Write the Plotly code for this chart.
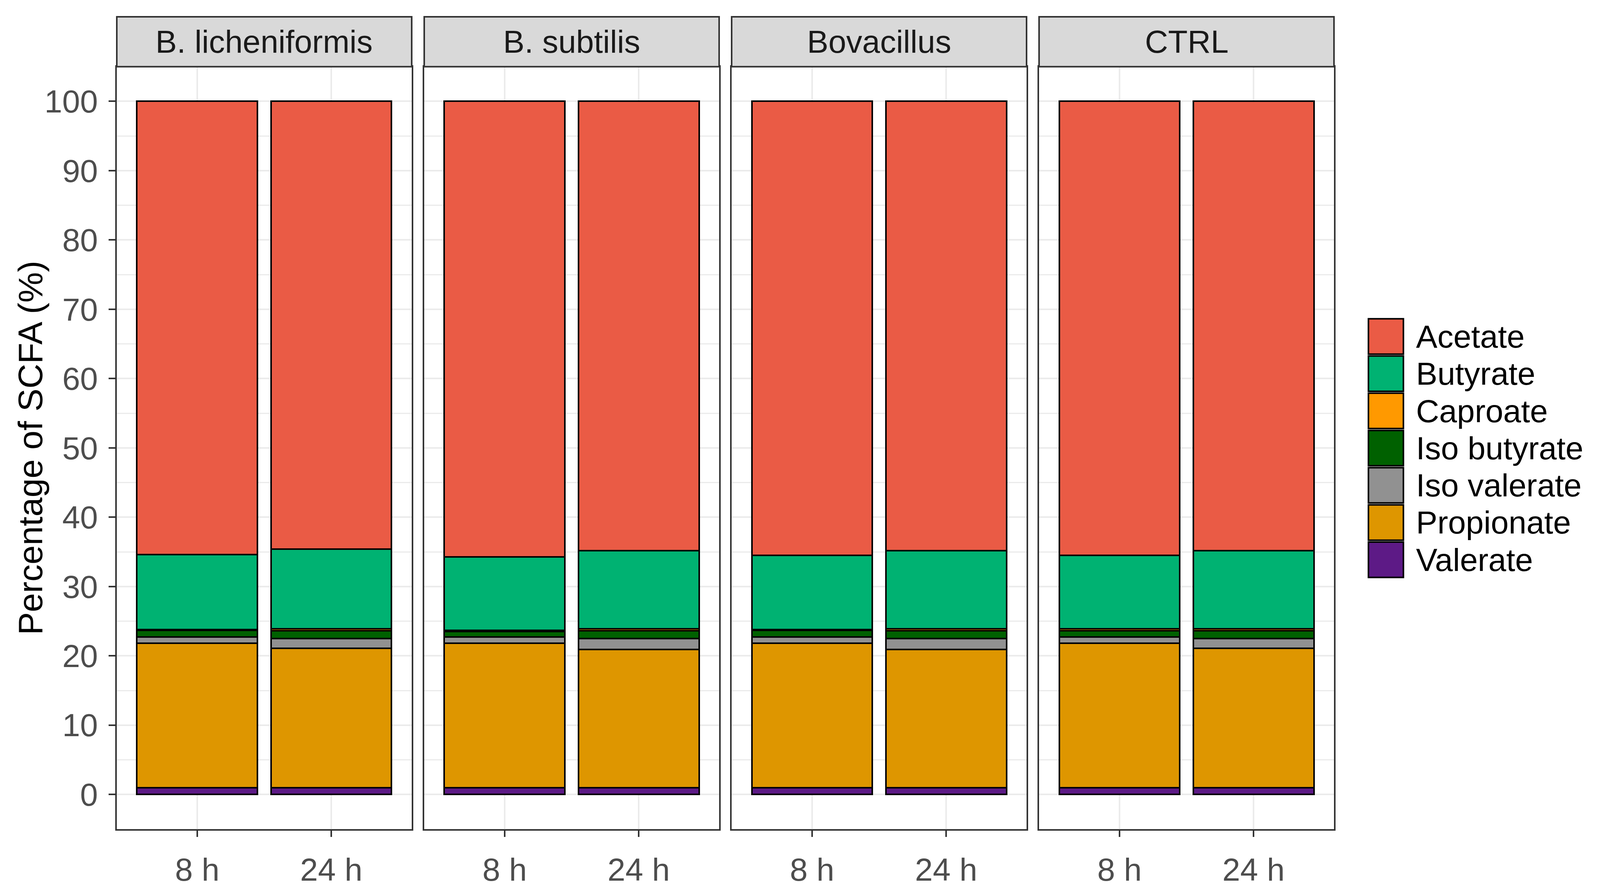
import plotly.graph_objects as go
from plotly.subplots import make_subplots

# ---------------- data ----------------
groups = ["B. licheniformis", "B. subtilis", "Bovacillus", "CTRL"]
times = ["8 h", "24 h"]

# values per group, [8 h, 24 h]
valerate = {"B. licheniformis": [1.0, 1.0], "B. subtilis": [1.0, 1.0],
            "Bovacillus": [1.0, 1.0], "CTRL": [1.0, 1.0]}
propionate = {"B. licheniformis": [20.8, 20.1], "B. subtilis": [20.8, 19.9],
              "Bovacillus": [20.8, 19.9], "CTRL": [20.8, 20.1]}
iso_valerate = {"B. licheniformis": [0.9, 1.4], "B. subtilis": [0.9, 1.6],
                "Bovacillus": [0.9, 1.6], "CTRL": [0.9, 1.4]}
iso_butyrate = {"B. licheniformis": [1.0, 1.1], "B. subtilis": [0.8, 1.1],
                "Bovacillus": [1.0, 1.1], "CTRL": [0.9, 1.1]}
caproate = {"B. licheniformis": [0.1, 0.3], "B. subtilis": [0.2, 0.3],
            "Bovacillus": [0.1, 0.3], "CTRL": [0.3, 0.3]}
butyrate = {"B. licheniformis": [10.8, 11.5], "B. subtilis": [10.6, 11.3],
            "Bovacillus": [10.7, 11.3], "CTRL": [10.6, 11.3]}
acetate = {"B. licheniformis": [65.4, 64.6], "B. subtilis": [65.7, 64.8],
           "Bovacillus": [65.5, 64.8], "CTRL": [65.5, 64.8]}

# stacking order bottom -> top
series_bottom_up = [
    ("Valerate", valerate, "#5D1A86"),
    ("Propionate", propionate, "#DE9600"),
    ("Iso valerate", iso_valerate, "#919191"),
    ("Iso butyrate", iso_butyrate, "#006100"),
    ("Caproate", caproate, "#FF9900"),
    ("Butyrate", butyrate, "#00B272"),
    ("Acetate", acetate, "#EA5B45"),
]
legend_order = ["Acetate", "Butyrate", "Caproate", "Iso butyrate",
                "Iso valerate", "Propionate", "Valerate"]
y_ticks = [0, 10, 20, 30, 40, 50, 60, 70, 80, 90, 100]
y_minor = [5, 15, 25, 35, 45, 55, 65, 75, 85, 95]

# ---------------- layout constants (pixels) ----------------
REF_W = 4346                 # reference width
W, H = 4096, 2284            # browser viewport
SX = W / REF_W               # horizontal scale from reference pixels

def rx(px):                  # reference x pixel -> page pixel
    return px * SX

ML = round(rx(317))
MR = round(W - rx(3623))
MT, MB = 43, 124
PANEL_TOP_PX = 173
PANEL_BOT_PX = H - MB
plot_h = H - MT - MB
plot_w = W - ML - MR
ydom_top = (PANEL_BOT_PX - PANEL_TOP_PX) / plot_h
GAP = rx(34)
FONT = "Liberation Sans, Arial, sans-serif"
FS = 82
LW = 4

fig = make_subplots(rows=1, cols=4, shared_yaxes=False,
                    horizontal_spacing=GAP / plot_w)

color_of = {n: c for n, _, c in series_bottom_up}
for gi, g in enumerate(groups):
    for name, vals, col in series_bottom_up:
        fig.add_trace(go.Bar(
            x=times, y=vals[g], name=name, width=0.9,
            marker=dict(color=col, line=dict(color="black", width=LW)),
            showlegend=False,
        ), row=1, col=gi + 1)

fig.update_layout(
    barmode="stack",
    width=W, height=H,
    margin=dict(l=ML, r=MR, t=MT, b=MB, pad=0),
    paper_bgcolor="white", plot_bgcolor="white",
    font=dict(family=FONT, size=FS, color="black"),
)

strip_top = (PANEL_BOT_PX - MT) / (PANEL_BOT_PX - PANEL_TOP_PX)
for gi in range(4):
    xa = "xaxis" if gi == 0 else f"xaxis{gi+1}"
    ya = "yaxis" if gi == 0 else f"yaxis{gi+1}"
    fig.layout[ya].domain = [0, ydom_top]
    fig.layout[xa].update(
        type="category", range=[-0.6, 1.6],
        showgrid=True, gridcolor="#EBEBEB", gridwidth=3.5,
        showline=True, mirror=True, linecolor="#333333", linewidth=LW,
        ticks="outside", ticklen=16, tickwidth=LW, tickcolor="#333333",
        tickfont=dict(family=FONT, size=FS, color="#4D4D4D"),
        ticklabelstandoff=14, zeroline=False, fixedrange=True,
    )
    fig.layout[ya].update(
        range=[-5, 105], tickvals=y_ticks,
        showgrid=True, gridcolor="#EBEBEB", gridwidth=3.5,
        minor=dict(tickvals=y_minor, showgrid=True,
                   gridcolor="#EBEBEB", gridwidth=2.5),
        showline=True, mirror=True, linecolor="#333333", linewidth=LW,
        zeroline=False, fixedrange=True,
    )
    if gi == 0:
        fig.layout[ya].update(
            ticks="outside", ticklen=17, tickwidth=LW, tickcolor="#333333",
            tickfont=dict(family=FONT, size=FS, color="#4D4D4D"),
            ticklabelstandoff=11, showticklabels=True,
        )
    else:
        fig.layout[ya].update(showticklabels=False, ticks="")

    # facet strip
    suffix = "" if gi == 0 else str(gi + 1)
    fig.add_shape(type="rect", xref=f"x{suffix} domain", yref=f"y{suffix} domain",
                  x0=0, x1=1, y0=1, y1=strip_top,
                  fillcolor="#D9D9D9", line=dict(color="#333333", width=LW),
                  layer="above")
    fig.add_annotation(xref=f"x{suffix} domain", yref=f"y{suffix} domain",
                       x=0.5, y=(1 + strip_top) / 2, text=groups[gi],
                       showarrow=False, xanchor="center", yanchor="middle",
                       font=dict(family=FONT, size=FS, color="#1A1A1A"))

def px_x(px):
    return (px - ML) / plot_w

def px_y(py):
    return (H - MB - py) / plot_h

# y-axis title (rotated, so its length runs vertically and is not scaled)
fig.add_annotation(xref="paper", yref="paper",
                   x=px_x(rx(83)),
                   y=px_y((PANEL_BOT_PX + PANEL_TOP_PX) / 2),
                   text="Percentage of SCFA (%)", textangle=-90,
                   showarrow=False, xanchor="center", yanchor="middle",
                   font=dict(family=FONT, size=88, color="black"))

# legend (keys and labels)
KEY_L, KEY_R = rx(3717), rx(3812)
KEY_TOP0, KEY_STEP, KEY_H = 830, 97, 92
TEXT_X = rx(3844)
for i, name in enumerate(legend_order):
    top = KEY_TOP0 + i * KEY_STEP
    fig.add_shape(type="rect", xref="paper", yref="paper",
                  x0=px_x(KEY_L), x1=px_x(KEY_R),
                  y0=px_y(top + KEY_H), y1=px_y(top),
                  fillcolor=color_of[name], line=dict(color="black", width=LW))
    fig.add_annotation(xref="paper", yref="paper",
                       x=px_x(TEXT_X), y=px_y(top + KEY_H / 2),
                       text=name, showarrow=False,
                       xanchor="left", yanchor="middle",
                       font=dict(family=FONT, size=FS, color="black"))

fig.write_html("out.html", config={"displayModeBar": False},
               post_script="document.body.style.margin='0';document.body.style.overflow='hidden';")
